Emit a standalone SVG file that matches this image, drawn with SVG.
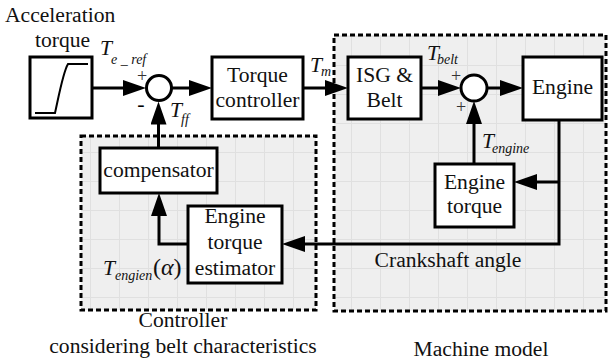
<svg xmlns="http://www.w3.org/2000/svg" width="609" height="364" viewBox="0 0 609 364" font-family="'Liberation Serif', 'DejaVu Serif', serif">
  <style>
    text { font-family: "Liberation Serif", "DejaVu Serif", serif; fill: #111; }
    .lbl { font-size: 21.6px; text-anchor: middle; }
    .lbl-l { font-size: 21.6px; }
    .var { font-size: 21.6px; font-style: italic; }
    .sub { font-size: 14px; font-style: italic; }
    .sign { font-size: 18px; text-anchor: middle; fill: #333; }
    .blk { fill: #fff; stroke: #000; stroke-width: 3; }
    .sum { fill: #fff; stroke: #000; stroke-width: 3; }
    .panel { fill: url(#grid); stroke: #000; stroke-width: 3; stroke-dasharray: 5 3; }
    .wire { fill: none; stroke: #000; stroke-width: 3; stroke-linejoin: miter; marker-end: url(#arr); }
  </style>
  <defs>
    <pattern id="grid" patternUnits="userSpaceOnUse" width="29" height="29" x="3" y="7">
      <rect width="29" height="29" fill="#efefef"/>
      <path d="M0 0.5 H29 M0.5 0 V29" stroke="#e0e0e0" stroke-width="1" fill="none"/>
    </pattern>
    <marker id="arr" markerUnits="userSpaceOnUse" markerWidth="24" markerHeight="16" refX="17" refY="8" orient="auto">
      <path d="M0 0 L23 8 L0 16 Z" fill="#000"/>
    </marker>
  </defs>

  <!-- shaded sub-system panels -->
  <g id="panel-controller">
    <rect class="panel" x="81" y="136" width="235" height="174"/>
    <text class="lbl" x="183" y="327">Controller</text>
    <text class="lbl" x="183" y="353">considering belt characteristics</text>
  </g>
  <g id="panel-machine">
    <rect class="panel" x="334" y="35" width="272" height="276"/>
    <text class="lbl" x="481" y="356">Machine model</text>
  </g>

  <!-- reference input -->
  <g id="step-input">
    <text class="lbl-l" x="5" y="22">Acceleration</text>
    <text class="lbl-l" x="35" y="47">torque</text>
    <rect class="blk" x="30" y="57" width="62" height="61"/>
    <path d="M35 113 H55 C58 100 63 72 68 64 H88" fill="none" stroke="#000" stroke-width="2"/>
  </g>

  <g id="sum-ref">
    <circle class="sum" cx="159" cy="88" r="12.5"/>
    <text class="sign" x="142" y="82">+</text>
    <text class="sign" x="141" y="111" style="font-size:22px;fill:#000">-</text>
  </g>

  <g id="torque-controller">
    <rect class="blk" x="212" y="57" width="91" height="62"/>
    <text class="lbl" x="257.5" y="82">Torque</text>
    <text class="lbl" x="257.5" y="107">controller</text>
  </g>

  <g id="isg-belt">
    <rect class="blk" x="348" y="57" width="73" height="62"/>
    <text class="lbl" x="384.5" y="82">ISG &amp;</text>
    <text class="lbl" x="384.5" y="107">Belt</text>
  </g>

  <g id="sum-plant">
    <circle class="sum" cx="474" cy="88" r="13"/>
    <text class="sign" x="456" y="82">+</text>
    <text class="sign" x="461" y="113">+</text>
  </g>

  <g id="engine">
    <rect class="blk" x="523" y="57" width="79" height="63"/>
    <text class="lbl" x="562.5" y="94">Engine</text>
  </g>

  <g id="engine-torque">
    <rect class="blk" x="435" y="164" width="79" height="63"/>
    <text class="lbl" x="474.5" y="189">Engine</text>
    <text class="lbl" x="474.5" y="213">torque</text>
  </g>

  <g id="compensator">
    <rect class="blk" x="100" y="148" width="117" height="45"/>
    <text class="lbl" x="158.5" y="177">compensator</text>
  </g>

  <g id="torque-estimator">
    <rect class="blk" x="188" y="206" width="94" height="77"/>
    <text class="lbl" x="235" y="223">Engine</text>
    <text class="lbl" x="235" y="249">torque</text>
    <text class="lbl" x="235" y="275">estimator</text>
  </g>

  <!-- signal flow -->
  <g id="connectors">
    <path class="wire" d="M92 88 H140"/>
    <path class="wire" d="M172 88 H206"/>
    <path class="wire" d="M303 88 H342"/>
    <path class="wire" d="M421 88 H455"/>
    <path class="wire" d="M487 88 H517"/>
    <path class="wire" d="M559 120 V244 H288"/>
    <path class="wire" d="M559 182 H520"/>
    <path class="wire" d="M474 164 V107"/>
    <path class="wire" d="M188 244 H159 V199"/>
    <path class="wire" d="M158.5 148 V107.5"/>
  </g>

  <!-- signal names -->
  <g id="signal-labels">
    <text class="var" x="100" y="55">T</text>
    <text class="sub" x="111" y="64" xml:space="preserve">e _ ref</text>
    <text class="var" x="170" y="117">T</text>
    <text class="sub" x="181" y="124">ff</text>
    <text class="var" x="310" y="72">T</text>
    <text class="sub" x="321" y="76">m</text>
    <text class="var" x="427" y="60">T</text>
    <text class="sub" x="437" y="64">belt</text>
    <text class="var" x="482" y="148">T</text>
    <text class="sub" x="492" y="153">engine</text>
    <text class="var" x="103" y="275">T</text>
    <text class="sub" x="115" y="280">engien</text>
    <text class="lbl-l" x="153" y="275" style="font-size:24px">(<tspan font-style="italic">α</tspan>)</text>
    <text class="lbl" x="448" y="267">Crankshaft angle</text>
  </g>
</svg>
